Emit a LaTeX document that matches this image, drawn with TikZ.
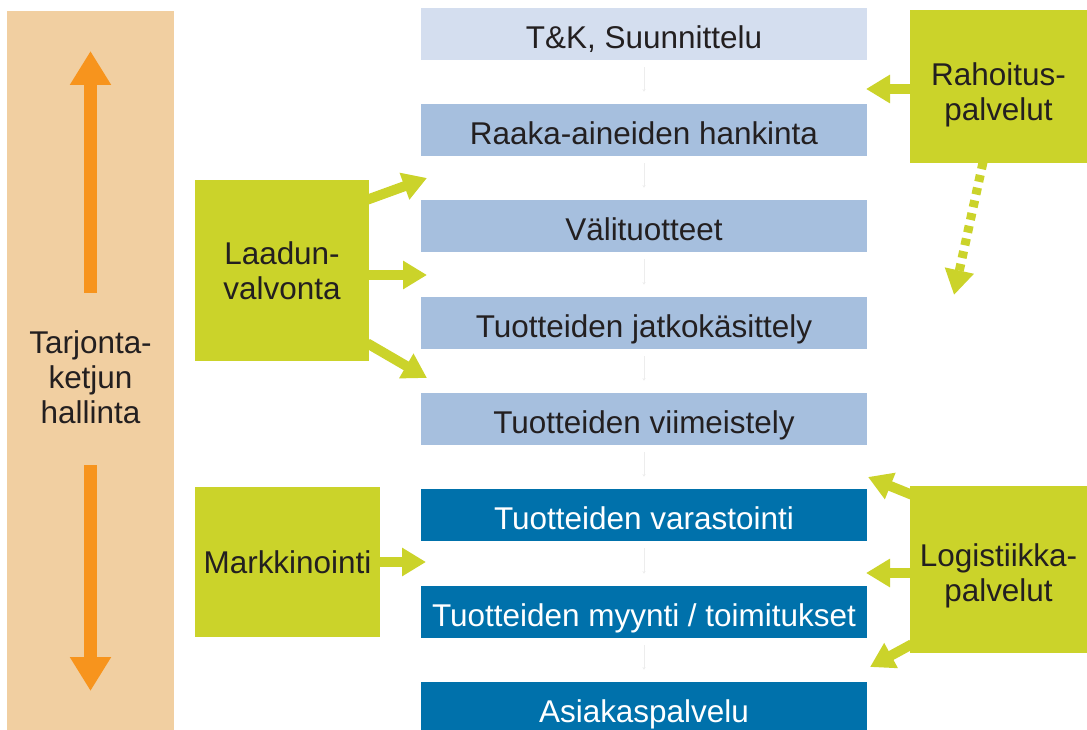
\documentclass[tikz,border=0pt]{standalone}
\usepackage{fontspec}
\setmainfont{Liberation Sans}
\usetikzlibrary{arrows.meta,calc}
\definecolor{tanbg}{HTML}{F1CFA1}
\definecolor{orangearr}{HTML}{F7941D}
\definecolor{limegreen}{HTML}{CBD32A}
\definecolor{paleblue}{HTML}{D4DEEF}
\definecolor{midblue}{HTML}{A6BFDE}
\definecolor{deepblue}{HTML}{0071AB}
\definecolor{darktext}{HTML}{231F20}
\def\px{0.75pt}
\tikzset{
  txt/.style={font=\fontsize{23.6}{26.3}\selectfont, text=darktext, align=center},
  stepbox/.style={font=\fontsize{23.6}{26.3}\selectfont, text=darktext,
    minimum width=446*\px, minimum height=52*\px, inner sep=0pt,
    text height=21.2pt, text depth=0pt, draw=none},
  lightstep/.style={stepbox, fill=paleblue},
  midstep/.style={stepbox, fill=midblue},
  darkstep/.style={stepbox, fill=deepblue, text=white},
  greenbox/.style={txt, fill=limegreen, inner sep=0pt},
  faint/.style={black!7, line width=0.3pt, -{Stealth[length=2pt,width=2.5pt]},
    shorten <=7*\px, shorten >=12*\px},
  garrow/.style={limegreen, line width=10*\px, -{Triangle[length=24*\px,width=27*\px]}},
  gdotted/.style={limegreen, line width=9*\px, dash pattern=on 7*\px off 6*\px,
    -{Triangle[length=25*\px,width=28*\px]}},
  oarrow/.style={orangearr, line width=13*\px, -{Triangle[length=34*\px,width=39*\px]}}
}
\begin{document}
\begin{tikzpicture}[x=0.75pt, y=-0.75pt]
\useasboundingbox (0,0) rectangle (1087,730);

% supply chain management column
\node[fill=tanbg, minimum width=167*\px, minimum height=722*\px, inner sep=0pt]
  (tan) at (90.5,372) {};
\node[txt] (tantxt) at (90.5,377) {Tarjonta-\\ketjun\\hallinta};
\coordinate (upTip) at (90.5,51);
\coordinate (downTip) at (90.5,691);
\draw[oarrow] ($(tan.center)+(0,-79)$) -- (upTip);
\draw[oarrow] ($(tan.center)+(0,93)$) -- (downTip);

% chain steps
\node[lightstep] (b1) at (644,34)  {T\&K, Suunnittelu};
\node[midstep]   (b2) at (644,130) {Raaka-aineiden hankinta};
\node[midstep]   (b3) at (644,226) {Välituotteet};
\node[midstep]   (b4) at (644,323) {Tuotteiden jatkokäsittely};
\node[midstep]   (b5) at (644,419) {Tuotteiden viimeistely};
\node[darkstep]  (b6) at (644,515) {Tuotteiden varastointi};
\node[darkstep]  (b7) at (644,612) {Tuotteiden myynti / toimitukset};
\node[darkstep]  (b8) at (644,708) {Asiakaspalvelu};
\foreach \a/\b in {b1/b2,b2/b3,b3/b4,b4/b5,b5/b6,b6/b7,b7/b8}
  \draw[faint] (\a) -- (\b);

% supporting functions
\node[greenbox, minimum width=177*\px, minimum height=153*\px] (rah) at (998.5,86.5) {};
\node[txt] (rahtxt) at (998.5,95) {Rahoitus-\\palvelut};
\node[greenbox, minimum width=174*\px, minimum height=181*\px] (laad) at (282,270.5)
  {Laadun-\\valvonta};
\node[greenbox, minimum width=185*\px, minimum height=150*\px] (mark) at (287.5,562)
  {Markkinointi};
\node[greenbox, minimum width=177*\px, minimum height=167*\px] (log) at (998.5,569.5) {};
\node[txt] (logtxt) at (998.5,576) {Logistiikka-\\palvelut};

% arrows from the supporting functions
\coordinate (rahTip) at (866,89);
\coordinate (rahDown) at (954,295);
\draw[garrow] ($(rah.west)+(2,2.5)$) -- (rahTip);
\draw[gdotted] ($(rah.south)+(-15.5,-1)$) -- (rahDown);

\coordinate (laTip1) at (427,178);
\coordinate (laTip2) at (427,275);
\coordinate (laTip3) at (427,378);
\draw[garrow] ($(laad.north east)+(-2,20)$) -- (laTip1);
\draw[garrow] ($(laad.east)+(-2,4.5)$) -- (laTip2);
\draw[garrow] ($(laad.south east)+(-2,-18)$) -- (laTip3);

\coordinate (maTip) at (426,562);
\draw[garrow] ($(mark.east)+(-2,0)$) -- (maTip);

\coordinate (loTip1) at (868,477);
\coordinate (loTip2) at (866,573);
\coordinate (loTip3) at (870,667);
\draw[garrow] ($(log.north west)+(2,9)$) -- (loTip1);
\draw[garrow] ($(log.west)+(2,3.5)$) -- (loTip2);
\draw[garrow] ($(log.south west)+(2,-9)$) -- (loTip3);
\end{tikzpicture}
\end{document}
